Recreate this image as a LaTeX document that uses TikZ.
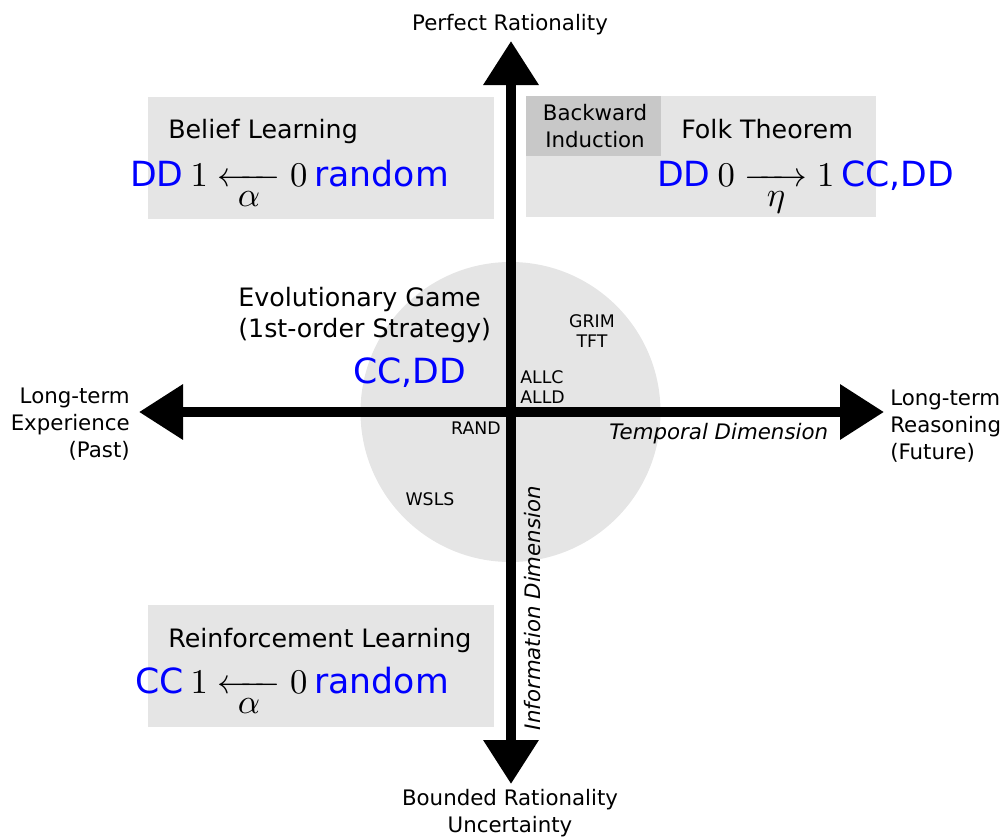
\documentclass[tikz,border=0pt]{standalone}
\usepackage{amsmath}
\usepackage{fontspec}
\setmainfont{DejaVu Sans}
% scalable Computer Modern shapes so maths follows any font size
\DeclareFontShape{OT1}{cmr}{m}{n}{<->cmr10}{}
\DeclareFontShape{OML}{cmm}{m}{it}{<->cmmi10}{}
\DeclareFontShape{OMS}{cmsy}{m}{n}{<->cmsy10}{}
\DeclareMathSizes{26}{26}{18.2}{13}
\usetikzlibrary{arrows.meta}
\definecolor{panel}{HTML}{E5E5E5}
\definecolor{paneldark}{HTML}{C8C8C8}

\tikzset{
  panelbox/.style={fill=panel, draw=none},
  innerbox/.style={fill=paneldark, draw=none},
  titletext/.style={font=\fontsize{19}{23}\selectfont, inner sep=0pt},
  bigtext/.style={font=\fontsize{26}{31}\selectfont, inner sep=0pt},
  smalltext/.style={font=\fontsize{13}{15}\selectfont, inner sep=0pt, align=center},
  axislabel/.style={font=\fontsize{16}{20}\selectfont, inner sep=0pt},
  dimlabel/.style={font=\fontsize{16}{20}\selectfont\itshape, inner sep=0pt},
  axisline/.style={line width=7.5pt, -{Triangle[length=33pt,width=39.75pt]}},
}
\newcommand{\blu}[1]{\textcolor{blue}{#1}}
% long arrow with a full-size label set underneath
\newcommand{\learnleft}[1]{\underset{\textstyle #1}{\xleftarrow{\hspace{33pt}}}}
\newcommand{\learnright}[1]{\underset{\textstyle #1}{\xrightarrow{\hspace{33pt}}}}

\begin{document}
\begin{tikzpicture}[x=0.75pt, y=-0.75pt]
\useasboundingbox (0,0) rectangle (1003,839);

% quadrant panels
\fill[panelbox] (148,97) rectangle (494,219);
\fill[panelbox] (526,96) rectangle (876,217);
\fill[innerbox] (526,96) rectangle (661,156);
\fill[panelbox] (148,605) rectangle (494,727);
\fill[panel] (510.5,412) circle (150);

% axes
\coordinate (O) at (511,412);
\coordinate (N) at (511,41);
\coordinate (S) at (511,784);
\coordinate (W) at (139,412);
\coordinate (E) at (884,412);
\draw[axisline] (O) -- (N);
\draw[axisline] (O) -- (S);
\draw[axisline] (O) -- (W);
\draw[axisline] (O) -- (E);

% axis end labels
\node[axislabel, anchor=base] (top) at (510,30) {Perfect Rationality};
\node[axislabel, anchor=base, align=center] (bot) at (510,832) {Bounded Rationality\\Uncertainty};
\node[axislabel, anchor=east, align=right] (left) at (130,424) {Long-term\\Experience\\(Past)};
\node[axislabel, anchor=west, align=left] (right) at (890,426) {Long-term\\Reasoning\\(Future)};

% dimension labels
\node[dimlabel, anchor=base west] (temporal) at (609,439) {Temporal Dimension};
\node[dimlabel, rotate=90] (information) at (533,608) {Information Dimension};

% belief learning
\node[titletext, anchor=base west] (belief) at (168,138) {Belief Learning};
\node[bigtext, anchor=base west] (beliefrow) at (130,186)
  {\blu{DD}\hspace{0.2em}$1 \learnleft{\alpha} 0$\hspace{0.2em}\blu{random}};

% folk theorem
\node[axislabel, anchor=base, align=center] (backward) at (595,147) {Backward\\Induction};
\node[titletext, anchor=base west] (folk) at (681,138) {Folk Theorem};
\node[bigtext, anchor=base west] (folkrow) at (657,186)
  {\blu{DD}\hspace{0.2em}$0 \learnright{\eta} 1$\hspace{0.2em}\blu{CC,DD}};

% reinforcement learning
\node[titletext, anchor=base west] (reinf) at (168,647) {Reinforcement Learning};
\node[bigtext, anchor=base west] (reinfrow) at (135,693)
  {\blu{CC}\hspace{0.2em}$1 \learnleft{\alpha} 0$\hspace{0.2em}\blu{random}};

% evolutionary game
\node[titletext, anchor=base west, align=left] (evo) at (238,337) {Evolutionary Game\\(1st-order Strategy)};
\node[bigtext, anchor=base west] (evorow) at (353,383) {\blu{CC,DD}};

% strategies
\node[smalltext, anchor=base] (grim) at (592,347) {GRIM\\TFT};
\node[smalltext, anchor=base west, align=left] (allc) at (520,403) {ALLC\\ALLD};
\node[smalltext, anchor=base east] (rand) at (501,434) {RAND};
\node[smalltext, anchor=base] (wsls) at (430,505) {WSLS};
\end{tikzpicture}
\end{document}
